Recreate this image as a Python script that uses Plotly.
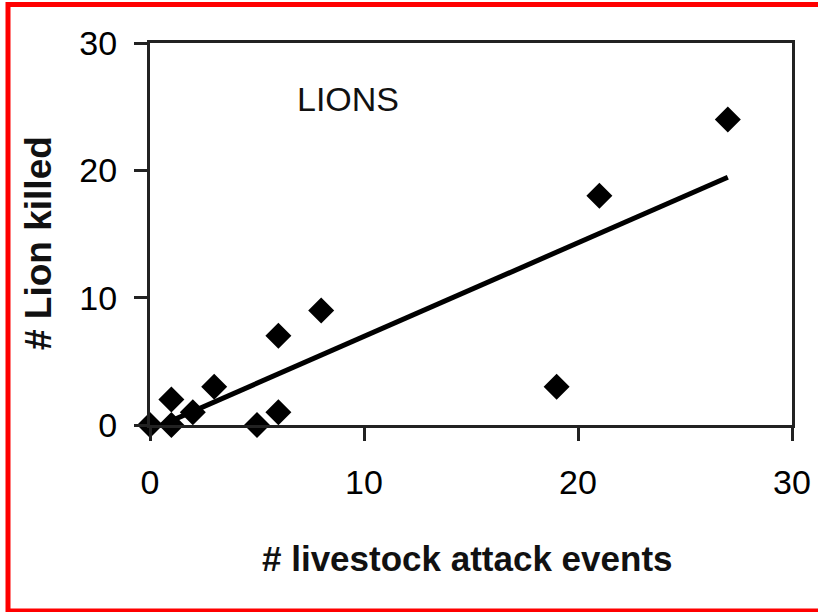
import numpy as np
import plotly.graph_objects as go

# Data
attack_events = [0, 1, 1, 2, 3, 5, 6, 6, 8, 19, 21, 27]
lions_killed = [0, 0, 2, 1, 3, 0, 1, 7, 9, 3, 18, 24]
tick_vals = [0, 10, 20, 30]
tick_text = ["0", "10", "20", "30"]

# Linear trend line (least-squares fit of the data)
slope, intercept = np.polyfit(attack_events, lions_killed, 1)
trend_x = [min(attack_events), max(attack_events)]
trend_y = [slope * v + intercept for v in trend_x]

W, H = 818, 612
L, R, T, B = 150, 26, 43, 187
pw, ph = W - L - R, H - T - B

def px(x):
    return (x - L) / pw

def py(y):
    return (H - B - y) / ph

fig = go.Figure()
fig.add_trace(go.Scatter(
    x=trend_x, y=trend_y, mode="lines",
    line=dict(color="black", width=5), showlegend=False, hoverinfo="skip"))
fig.add_trace(go.Scatter(
    x=attack_events, y=lions_killed, mode="markers",
    marker=dict(symbol="diamond", size=20, color="black",
                line=dict(width=0)),
    showlegend=False, cliponaxis=False))

axis_font = dict(family="Liberation Sans, Arial, sans-serif", size=34, color="#000")

fig.update_xaxes(range=[0, 30], tickvals=tick_vals, ticktext=tick_text,
                 showgrid=False, zeroline=False, showline=True, linecolor="#222",
                 linewidth=3, mirror=True, ticks="outside", ticklen=13,
                 tickwidth=3, tickcolor="#222", tickfont=axis_font,
                 ticklabelstandoff=12, automargin=False)
fig.update_yaxes(range=[0, 30], tickvals=tick_vals, ticktext=tick_text,
                 showgrid=False, zeroline=False, showline=True, linecolor="#222",
                 linewidth=3, mirror=True, ticks="outside", ticklen=13,
                 tickwidth=3, tickcolor="#222", tickfont=axis_font,
                 ticklabelstandoff=10, automargin=False)

title_font = dict(family="Liberation Sans, Arial, sans-serif", size=35, color="#111")

red = dict(color="red", width=5)
fig.update_layout(
    width=W, height=H,
    margin=dict(l=L, r=R, t=T, b=B, pad=0, autoexpand=False),
    paper_bgcolor="white", plot_bgcolor="white",
    annotations=[
        dict(text="<b># livestock attack events</b>", xref="paper", yref="paper",
             x=px(467), y=py(558), xanchor="center", yanchor="middle",
             showarrow=False, font=title_font),
        dict(text="<b># Lion killed</b>", xref="paper", yref="paper",
             x=px(38), y=py(243), xanchor="center", yanchor="middle",
             textangle=-90, showarrow=False,
             font=dict(family="Liberation Sans, Arial, sans-serif", size=37, color="#111")),
        dict(text="LIONS", xref="x", yref="y", x=9.25, y=25.6,
             xanchor="center", yanchor="middle", showarrow=False,
             font=dict(family="Liberation Sans, Arial, sans-serif", size=34, color="#111")),
    ],
    shapes=[
        dict(type="line", xref="paper", yref="paper", layer="above",
             x0=px(8), x1=px(8), y0=py(612), y1=py(2), line=red),
        dict(type="line", xref="paper", yref="paper", layer="above",
             x0=px(6), x1=px(820), y0=py(4.5), y1=py(4.5), line=red),
        dict(type="line", xref="paper", yref="paper", layer="above",
             x0=px(6), x1=px(820), y0=py(611), y1=py(611), line=red),
    ],
)

fig.write_html("out.html", config={"displayModeBar": False, "responsive": False},
               post_script="document.body.style.margin='0';document.body.style.overflow='hidden';document.body.style.background='white';")
